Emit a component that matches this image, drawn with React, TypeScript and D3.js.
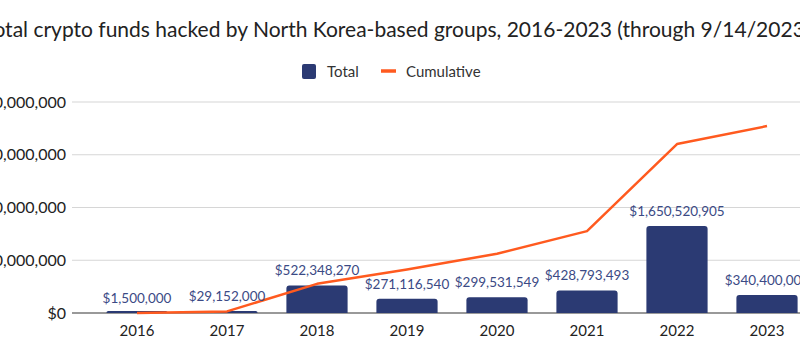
import React from "react";
import * as d3 from "d3";

const years = ["2016", "2017", "2018", "2019", "2020", "2021", "2022", "2023"];
const totals = [1500000, 29152000, 522348270, 271116540, 299531549, 428793493, 1650520905, 340400000];
const cumulative = [1500000, 30652000, 553000270, 824116810, 1123648359, 1552441852, 3202962757, 3543362757];
const yTicks = [0, 1000000000, 2000000000, 3000000000, 4000000000];
const title = "Total crypto funds hacked by North Korea-based groups, 2016-2023 (through 9/14/2023)";

const W = 800;
const H = 354;
const FONT = "Lato, 'Open Sans', sans-serif";

export default function App() {
  const x = d3.scaleBand<string>().domain(years).range([92, 812]).paddingInner(0.32).paddingOuter(0.16);
  const y = d3.scaleLinear().domain([0, 4000000000]).range([313, 102]);
  const fmt = d3.format(",");
  const money = (v: number) => "$" + fmt(v);
  const cx = (yr: string) => (x(yr) as number) + x.bandwidth() / 2;
  const line = d3
    .line<number>()
    .x((_, i) => cx(years[i]))
    .y((d) => y(d));

  const barPath = (x0: number, y0: number, w: number, h: number, r: number) => {
    const rr = Math.min(r, h, w / 2);
    return `M${x0},${y0 + h}V${y0 + rr}Q${x0},${y0} ${x0 + rr},${y0}H${x0 + w - rr}Q${x0 + w},${y0} ${x0 + w},${y0 + rr}V${y0 + h}Z`;
  };

  return (
    <svg
      width={W}
      height={H}
      style={{ position: "absolute", left: 0, top: 0, background: "#fff", fontFamily: FONT }}
    >
      <rect width={W} height={H} fill="#fff" />
      <text x={397} y={37} textAnchor="middle" fontSize={21} fill="#222">
        {title}
      </text>
      {/* legend */}
      <g>
        <rect x={302} y={64} width={14} height={15} rx={2} fill="#2b3a73" />
        <text x={327} y={76.5} fontSize={15} fill="#333">Total</text>
        <line x1={381} x2={396} y1={71} y2={71} stroke="#ff5a1f" strokeWidth={3.5} />
        <text x={406} y={76.5} fontSize={15} fill="#333">Cumulative</text>
      </g>
      {/* grid */}
      {yTicks.map((t) => (
        <g key={t}>
          <line
            x1={72}
            x2={W}
            y1={y(t)}
            y2={y(t)}
            stroke={t === 0 ? "#777" : "#d6d6d6"}
            strokeWidth={t === 0 ? 1.5 : 1.2}
          />
          <text x={66} y={y(t) + 5.5} textAnchor="end" fontSize={16} fill="#222">
            {money(t)}
          </text>
        </g>
      ))}
      {/* bars */}
      {totals.map((v, i) => {
        const x0 = x(years[i]) as number;
        const h = Math.max(2, y(0) - y(v));
        return <path key={years[i]} d={barPath(x0, y(0) - h, x.bandwidth(), h, 3)} fill="#2b3a73" />;
      })}
      {/* cumulative line */}
      <path d={line(cumulative) || ""} fill="none" stroke="#ff5a1f" strokeWidth={2.5} strokeLinejoin="round" />
      {/* bar labels */}
      {totals.map((v, i) => (
        <text
          key={"l" + years[i]}
          x={cx(years[i])}
          y={y(v) - 10}
          textAnchor="middle"
          fontSize={13.5}
          fill="#3b4a85"
        >
          {money(v)}
        </text>
      ))}
      {/* x labels */}
      {years.map((yr) => (
        <text key={"x" + yr} x={cx(yr)} y={336} textAnchor="middle" fontSize={15} fill="#222">
          {yr}
        </text>
      ))}
    </svg>
  );
}
